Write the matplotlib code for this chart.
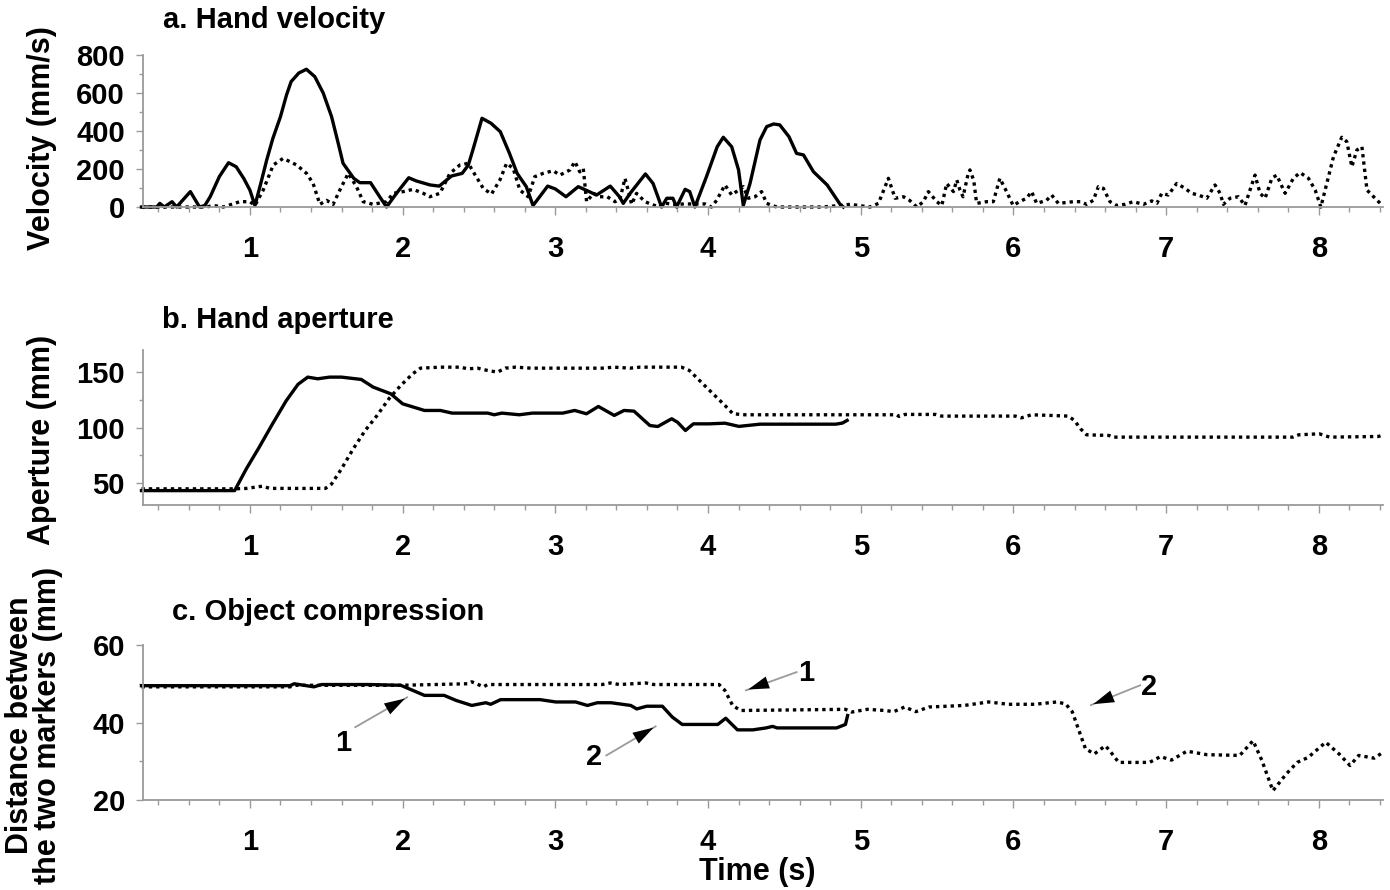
import matplotlib
matplotlib.use("Agg")
import matplotlib.pyplot as plt
from matplotlib.ticker import MultipleLocator

plt.rcParams['font.family'] = ['Liberation Sans', 'DejaVu Sans']
plt.rcParams['font.weight'] = 'bold'

# a. Hand velocity (mm/s)
vel_solid_t = [0.29, 0.39, 0.41, 0.44, 0.49, 0.52, 0.61, 0.67, 0.705, 0.74, 0.80, 0.86, 0.91, 0.96,
               1.0, 1.033, 1.07, 1.11, 1.15, 1.2, 1.24, 1.27, 1.32, 1.37, 1.425, 1.48, 1.535, 1.58,
               1.61, 1.68, 1.72, 1.79, 1.85, 1.895, 1.96, 2.04, 2.09, 2.18, 2.24, 2.32, 2.39,
               2.43, 2.46, 2.52, 2.58, 2.64, 2.7, 2.75, 2.81, 2.854, 2.89, 2.95, 3.0, 3.07, 3.15,
               3.2, 3.27, 3.36, 3.42, 3.445, 3.49, 3.59, 3.64, 3.696, 3.73, 3.77, 3.794, 3.85,
               3.88, 3.914, 3.99, 4.06, 4.1, 4.155, 4.2, 4.231, 4.275, 4.34, 4.384, 4.43, 4.47,
               4.53, 4.58, 4.625, 4.69, 4.78, 4.865, 4.886]
vel_solid = [0, 0, 19, 0, 28, 0, 81, 0, 8, 54, 160, 233, 212, 150,
             89, 8, 120, 247, 360, 475, 590, 660, 705, 725, 686, 600, 475, 330,
             230, 151, 128, 128, 54, 0, 72, 154, 137, 116, 110, 163, 177,
             220, 300, 467, 440, 396, 282, 177, 107, 8, 46, 110, 95, 54, 107,
             89, 63, 110, 54, 19, 72, 174, 124, 0, 46, 46, 0, 93,
             81, 0, 160, 317, 367, 317, 195, 8, 124, 352, 423, 437, 432,
             370, 282, 274, 186, 116, 14, 0]

vel_dot_t = [0.29, 0.6, 0.716, 0.76, 0.825, 0.934, 1.0, 1.033, 1.087, 1.153, 1.218, 1.306, 1.371,
             1.414, 1.458, 1.502, 1.545, 1.589, 1.644, 1.698, 1.742, 1.807, 1.895, 1.939, 2.004,
             2.069, 2.135, 2.179, 2.244, 2.31, 2.375, 2.43, 2.462, 2.528, 2.582, 2.637, 2.681,
             2.724, 2.768, 2.822, 2.866, 2.92, 2.986, 3.03, 3.096, 3.128, 3.16, 3.183, 3.205,
             3.25, 3.292, 3.34, 3.391, 3.423, 3.456, 3.47, 3.5, 3.532, 3.587, 3.63, 3.68, 3.72,
             3.78, 3.849, 3.92, 3.98, 4.023, 4.056, 4.111, 4.155, 4.199, 4.231, 4.264, 4.308,
             4.351, 4.384, 4.45, 4.6, 4.75, 4.865, 4.93, 5.061, 5.116, 5.181, 5.225, 5.28, 5.32,
             5.367, 5.41, 5.443, 5.498, 5.531, 5.563, 5.607, 5.629, 5.65, 5.67, 5.704, 5.715,
             5.74, 5.759, 5.824, 5.868, 5.911, 5.955, 5.998, 6.04, 6.086, 6.119, 6.152, 6.217,
             6.25, 6.294, 6.392, 6.44, 6.479, 6.523, 6.556, 6.589, 6.632, 6.676, 6.73, 6.785,
             6.851, 6.905, 6.94, 6.971, 7.014, 7.069, 7.12, 7.167, 7.211, 7.266, 7.32, 7.353,
             7.375, 7.418, 7.473, 7.516, 7.549, 7.582, 7.615, 7.648, 7.692, 7.724, 7.779,
             7.833, 7.877, 7.932, 7.976, 8.013, 8.052, 8.096, 8.15, 8.183, 8.216, 8.249,
             8.282, 8.315, 8.358, 8.402]
vel_dot = [0, 0, 0, 8, 0, 28, 28, 8, 89, 221, 256, 221, 177,
           124, 14, 35, 14, 89, 177, 107, 28, 14, 28, 72, 81,
           93, 72, 54, 72, 177, 221, 230, 186, 98, 68, 142, 230,
           203, 89, 54, 160, 177, 191, 168, 195, 239, 185, 203, 28,
           72, 54, 54, 28, 40, 151, 110, 14, 72, 28, 14, 0, 20,
           14, 16, 16, 16, 0, 35, 116, 63, 89, 107, 46, 54,
           81, 19, 0, 0, 0, 8, 14, 0, 19, 151, 46, 54, 35,
           0, 28, 81, 28, 8, 124, 81, 142, 89, 54, 177, 195,
           140, 19, 28, 28, 151, 81, 8, 28, 46, 81, 19, 35,
           63, 19, 28, 28, 14, 35, 107, 98, 28, 8, 14, 28,
           14, 32, 20, 72, 63, 124, 100, 72, 63, 46, 116, 72,
           14, 46, 54, 8, 89, 168, 72, 46, 151, 168, 72,
           151, 181, 151, 89, 0, 124, 265, 367, 344, 212, 300,
           317, 89, 54, 19]

# b. Hand aperture (mm)
ap_solid_t = [0.29, 0.9, 0.978, 1.056, 1.147, 1.237, 1.315, 1.379, 1.444, 1.522, 1.6, 1.729, 1.807,
              1.923, 2.0, 2.143, 2.247, 2.324, 2.557, 2.6, 2.65, 2.764, 2.85, 3.049, 3.127, 3.204,
              3.282, 3.386, 3.45, 3.515, 3.619, 3.671, 3.762, 3.8, 3.852, 3.904, 4.008, 4.111,
              4.202, 4.34, 4.836, 4.88, 4.911]
ap_solid = [43, 43, 63, 81, 103, 124, 139, 145.5, 144, 145.5, 145.5, 143.4, 136.5,
            130.4, 121.4, 115.4, 115.4, 113, 113, 111.5, 113, 111.5, 113, 113, 115.4, 112.4,
            119, 110.9, 115.4, 114.8, 101.8, 100.9, 107.9, 104.8, 97.3, 103.3, 103.3, 103.9,
            101, 103, 103, 104, 106.4]

ap_dot_t = [0.29, 0.9, 0.978, 1.082, 1.13, 1.495, 1.535, 1.6, 1.677, 1.755, 1.833, 1.91, 1.988,
            2.066, 2.117, 2.247, 2.376, 2.428, 2.49, 2.557, 2.621, 2.673, 2.738, 2.841, 3.307,
            3.385, 3.489, 3.554, 3.826, 3.878, 3.955, 4.033, 4.111, 4.163, 4.24, 5.236, 5.25,
            5.29, 5.49, 5.53, 6.012, 6.052, 6.119, 6.359, 6.399, 6.439, 6.479, 6.626, 6.653,
            7.829, 7.869, 8.003, 8.07, 8.391, 8.42]
ap_dot = [44.6, 44.6, 45, 47, 45, 45, 49, 62.7, 80.8, 97.3, 110.9, 125.9, 138,
          148.5, 153.6, 154.5, 154.5, 153, 153.6, 151.5, 150, 153.6, 154.5, 153.6, 153.6,
          154.5, 153.6, 154.5, 154.5, 151.5, 141, 130.4, 119.9, 112.4, 111.5, 111.5, 110,
          111.8, 111.8, 110.3, 110.3, 108.7, 111.5, 110.3, 106.4, 98.9, 93.4, 92.8, 91.3,
          91.3, 93.4, 94.3, 91.3, 91.9, 93.4]

# c. Object compression (mm)
comp_solid_t = [0.29, 1.263, 1.29, 1.419, 1.47, 1.781, 1.988, 2.066, 2.143, 2.272, 2.35, 2.453,
                2.505, 2.545, 2.577, 2.642, 2.9, 3.003, 3.133, 3.21, 3.275, 3.365, 3.494, 3.533,
                3.598, 3.701, 3.766, 3.831, 4.064, 4.116, 4.154, 4.193, 4.293, 4.38, 4.423,
                4.452, 4.842, 4.9, 4.914]
comp_solid = [49.5, 49.5, 50.0, 49.2, 49.8, 49.8, 49.6, 48.3, 47, 47, 45.7, 44.4,
              44.8, 45.1, 44.7, 45.9, 45.9, 45.3, 45.3, 44.4, 45.1, 45.1, 44.4, 43.5,
              44.2, 44.2, 41.4, 39.5, 39.5, 41.1, 39.6, 38.1, 38.1, 38.6, 39.0,
              38.6, 38.6, 39.5, 41.8]

comp_dot_t = [0.29, 1.263, 1.3, 1.988, 2.428, 2.453, 2.53, 2.556, 3.307, 3.36, 3.42, 3.593,
              3.645, 4.072, 4.11, 4.161, 4.213, 4.9, 4.942, 5.043, 5.159, 5.216, 5.288, 5.361,
              5.447, 5.563, 5.678, 5.837, 5.967, 6.14, 6.284, 6.342, 6.386, 6.429, 6.472, 6.53,
              6.602, 6.631, 6.689, 6.891, 6.963, 7.035, 7.136, 7.266, 7.482, 7.569, 7.627,
              7.699, 7.786, 7.858, 7.93, 8.045, 8.132, 8.204, 8.261, 8.362, 8.42]
comp_dot = [49.2, 49.2, 49.6, 49.6, 50, 50.5, 49.2, 49.8, 49.8, 50.2, 49.8, 50.2,
            49.8, 49.8, 48.3, 44.4, 43.1, 43.4, 42.7, 43.4, 43.1, 42.8, 44, 42.8,
            44, 44.2, 44.4, 45.3, 44.7, 44.7, 45.3, 44.8, 42.7, 37.9, 33.2, 31.9,
            34, 32.7, 29.7, 29.7, 31.2, 30.3, 32.6, 31.7, 31.5, 35.3, 30.2,
            22.4, 26.7, 29.7, 31, 34.9, 31.9, 28.9, 31.5, 30.8, 32.3]

# annotation arrows in panel c: (label, text pos, shaft start, arrow tip)
arrow_labels = ['1', '2', '1', '2']
arrow_text = [(1.61, 34.6), (3.256, 31.0), (4.64, 52.7), (6.887, 49.1)]
arrow_start = [(1.69, 38.8), (3.334, 31.5), (4.58, 53.0), (6.83, 49.6)]
arrow_tip = [(2.03, 46.5), (3.657, 39.0), (4.248, 48.3), (6.508, 44.5)]

GRAY = '#9a9a9a'
W, H = 1390, 890

fig = plt.figure(figsize=(W / 100, H / 100), dpi=100)

# axes boxes in pixels: (left, top, right, bottom)
boxes = [(143, 55, 1383, 207), (143, 350, 1383, 505), (143, 645, 1383, 800)]
axes = []
for (l, t, r, b) in boxes:
    ax = fig.add_axes([l / W, 1 - b / H, (r - l) / W, (b - t) / H])
    axes.append(ax)


def style_axis(ax, ylim, ymaj, ymin):
    ax.set_xlim(0.3, 8.42)
    ax.set_ylim(*ylim)
    for s in ['top', 'right']:
        ax.spines[s].set_visible(False)
    for s in ['left', 'bottom']:
        ax.spines[s].set_color(GRAY)
        ax.spines[s].set_linewidth(1.3)
    ax.xaxis.set_major_locator(MultipleLocator(1))
    ax.xaxis.set_minor_locator(MultipleLocator(0.2))
    ax.yaxis.set_major_locator(MultipleLocator(ymaj))
    ax.yaxis.set_minor_locator(MultipleLocator(ymin))
    ax.tick_params(axis='x', which='major', direction='out', length=6, width=1,
                   color=GRAY, pad=14, labelsize=21)
    ax.tick_params(axis='x', which='minor', direction='out', length=3.5, width=1, color=GRAY)
    ax.tick_params(axis='y', which='major', direction='out', length=5, width=1,
                   color=GRAY, pad=8, labelsize=21)
    ax.tick_params(axis='y', which='minor', direction='out', length=3, width=1, color=GRAY)
    for lab in ax.get_xticklabels() + ax.get_yticklabels():
        lab.set_fontweight('bold')


def draw(ax, ts, vs, td, vd):
    ax.plot(td, vd, color='black', lw=2.4, linestyle=(0, (1, 1.2)), clip_on=False)
    ax.plot(ts, vs, color='black', lw=2.4, solid_joinstyle='round', clip_on=False)


draw(axes[0], vel_solid_t, vel_solid, vel_dot_t, vel_dot)
style_axis(axes[0], (0, 800), 200, 100)

draw(axes[1], ap_solid_t, ap_solid, ap_dot_t, ap_dot)
style_axis(axes[1], (30, 170), 50, 25)

draw(axes[2], comp_solid_t, comp_solid, comp_dot_t, comp_dot)
style_axis(axes[2], (20, 60), 20, 10)

ax = axes[2]
for lab, tp, sp, tip in zip(arrow_labels, arrow_text, arrow_start, arrow_tip):
    # thin gray shaft, then a solid black head
    ax.plot([sp[0], tip[0]], [sp[1], tip[1]], color=GRAY, lw=1.3)
    ax.annotate('', xy=tip, xytext=sp,
                arrowprops=dict(arrowstyle='-|>,head_length=1.5,head_width=0.45',
                                fc='black', ec='none', shrinkA=0, shrinkB=0))
    ax.text(tp[0], tp[1], lab, fontsize=21, fontweight='bold', ha='center', va='center')

# panel titles
fig.text(163 / W, 1 - 20 / H, 'a. Hand velocity', fontsize=21, fontweight='bold', va='center')
fig.text(162 / W, 1 - 320 / H, 'b. Hand aperture', fontsize=21, fontweight='bold', va='center')
fig.text(172 / W, 1 - 612 / H, 'c. Object compression', fontsize=21, fontweight='bold', va='center')

# y labels
fig.text(42 / W, 1 - 138 / H, 'Velocity (mm/s)', fontsize=22, fontweight='bold',
         rotation=90, ha='center', va='center')
fig.text(42 / W, 1 - 440 / H, 'Aperture (mm)', fontsize=22, fontweight='bold',
         rotation=90, ha='center', va='center')
fig.text(34 / W, 1 - 725 / H, 'Distance between\nthe two markers (mm)', fontsize=22,
         fontweight='bold', rotation=90, ha='center', va='center', linespacing=0.92,
         multialignment='center')

fig.text(757 / W, 1 - 872 / H, 'Time (s)', fontsize=22, fontweight='bold', ha='center', va='center')

fig.savefig('out.png', dpi=100)
